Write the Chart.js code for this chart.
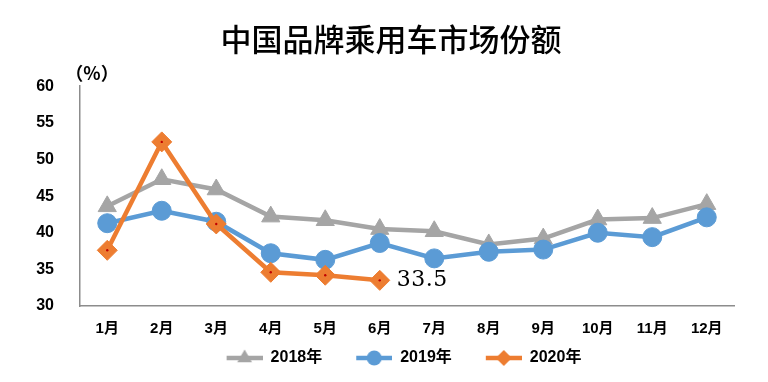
<!DOCTYPE html>
<html><head><meta charset="utf-8">
<script src="https://cdn.jsdelivr.net/npm/chart.js@4/dist/chart.umd.min.js"></script>
<style>html,body{margin:0;padding:0;background:#fff}#wrap{width:768px;height:382px}</style>
</head><body><div id="wrap"><canvas id="c" width="768" height="382"></canvas></div>
<script>
const chartTitle = '中国品牌乘用车市场份额';
const unitLabel = '（%）';
const months = ['1月','2月','3月','4月','5月','6月','7月','8月','9月','10月','11月','12月'];
const seriesNames = ['2018年','2019年','2020年'];
const share2018 = [43.6,47.3,45.9,42.2,41.7,40.5,40.2,38.4,39.2,41.8,42.0,43.9];
const share2019 = [41.3,43.0,41.5,37.2,36.3,38.6,36.5,37.4,37.7,40.0,39.4,42.1];
const share2020 = [37.6,52.4,41.2,34.6,34.2,33.5];
const yMin = 30, yMax = 60, yStep = 5;

const colors = ['#A5A5A5','#5B9BD5','#ED7D31'];
const styles = ['triangle','circle','rectRot'];
const LEG_W = 62;

function legendIcon(i){
  const cv = document.createElement('canvas');
  cv.width = LEG_W; cv.height = 20;
  const g = cv.getContext('2d');
  const x0 = LEG_W - 36, cx = LEG_W - 18, cy = 10;
  g.strokeStyle = colors[i]; g.fillStyle = colors[i]; g.lineWidth = 4.5;
  g.beginPath(); g.moveTo(x0, cy); g.lineTo(LEG_W, cy); g.stroke();
  g.beginPath();
  if (styles[i] === 'triangle') {
    const r = 8.5;
    g.moveTo(cx, cy - r); g.lineTo(cx + r*0.866, cy + r/2); g.lineTo(cx - r*0.866, cy + r/2); g.closePath();
  } else if (styles[i] === 'circle') {
    g.arc(cx, cy, 7.5, 0, Math.PI*2);
  } else {
    const r = 8;
    g.moveTo(cx, cy - r); g.lineTo(cx + r, cy); g.lineTo(cx, cy + r); g.lineTo(cx - r, cy); g.closePath();
  }
  g.fill();
  return cv;
}
const icons = [0,1,2].map(legendIcon);

const annot = {
  id: 'annot',
  afterDatasetsDraw(chart){
    const ctx = chart.ctx;
    const meta = chart.getDatasetMeta(2);
    ctx.save();
    ctx.fillStyle = '#C00000';
    meta.data.forEach(p => { ctx.beginPath(); ctx.arc(p.x, p.y, 1.2, 0, Math.PI*2); ctx.fill(); });
    const last = meta.data[meta.data.length-1];
    ctx.fillStyle = '#000';
    ctx.font = '22px "DejaVu Serif","Liberation Serif",serif';
    ctx.letterSpacing = '0.5px';
    ctx.textAlign = 'left'; ctx.textBaseline = 'middle';
    ctx.fillText(share2020[share2020.length-1].toFixed(1), last.x + 17, last.y);
    ctx.letterSpacing = '0px';
    const ya = chart.scales.y;
    ctx.font = 'bold 18px "Noto Sans CJK SC",sans-serif';
    ctx.textAlign = 'center';
    ctx.fillText(unitLabel, ya.right + 12, ya.top - 13);
    ctx.restore();
  }
};

const mk = (i, data, radius, order) => ({
  label: seriesNames[i], data,
  borderColor: colors[i], backgroundColor: colors[i],
  pointBackgroundColor: colors[i], pointBorderColor: colors[i],
  pointStyle: styles[i], pointRadius: radius, pointBorderWidth: 1,
  borderWidth: 4.5, tension: 0, order, clip: false
});

const fontSans = '"Liberation Sans","Noto Sans CJK SC",sans-serif';

new Chart(document.getElementById('c'), {
  type: 'line',
  data: {
    labels: months,
    datasets: [ mk(0, share2018, 10.5, 3), mk(1, share2019, 9.5, 2), mk(2, share2020, 10, 1) ]
  },
  options: {
    responsive: false, animation: false, devicePixelRatio: 1,
    layout: { padding: { left: 30, right: 16, top: 0, bottom: 6 } },
    plugins: {
      title: { display: true, text: chartTitle, color: '#000',
        font: { family: '"Noto Sans CJK SC",sans-serif', size: 31, weight: 500 },
        padding: { top: 21, bottom: 28 } },
      legend: { position: 'bottom',
        labels: { color: '#000', font: { family: fontSans, size: 16, weight: 'bold' },
          usePointStyle: true, pointStyleWidth: LEG_W, padding: 8,
          sort: (a,b) => a.datasetIndex - b.datasetIndex,
          generateLabels(chart){
            const items = Chart.defaults.plugins.legend.labels.generateLabels(chart);
            items.forEach(it => { it.pointStyle = icons[it.datasetIndex]; });
            return items;
          } } },
      tooltip: { enabled: false }
    },
    scales: {
      x: { offset: true, grid: { display: false, drawTicks: false, offset: true },
        border: { display: true, color: '#8C8C8C', width: 1.5 },
        ticks: { color: '#000', font: { family: fontSans, size: 15, weight: 'bold' }, padding: 14, maxRotation: 0, autoSkip: false },
        afterFit(s){ s.height = 36; } },
      y: { min: yMin, max: yMax,
        grid: { display: false, drawTicks: false },
        border: { display: true, color: '#8C8C8C', width: 1.5 },
        ticks: { stepSize: yStep, color: '#000', font: { family: fontSans, size: 16, weight: 'bold' }, padding: 26 },
        afterFit(s){ s.width = 50; } },
      yRight: { type: 'linear', position: 'right', display: true,
        grid: { display: false, drawTicks: false }, border: { display: false },
        ticks: { display: false },
        afterFit(s){ s.width = 18; } }
    }
  },
  plugins: [annot]
});
</script>
</body></html>
